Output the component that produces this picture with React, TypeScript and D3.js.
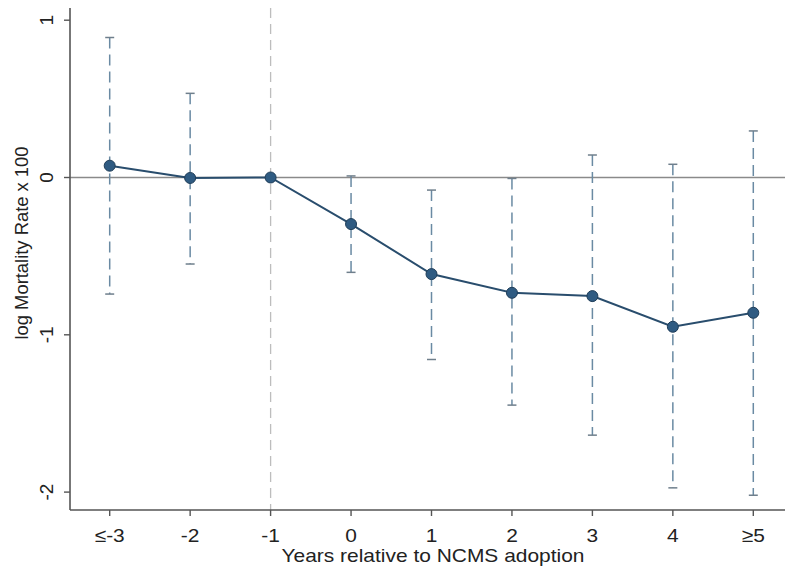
import React from "react";
import * as d3 from "d3";

const categories = ["≤-3", "-2", "-1", "0", "1", "2", "3", "4", "≥5"];
const estimates = [0.075, -0.003, 0, -0.296, -0.614, -0.733, -0.754, -0.949, -0.86];
const ciLow = [-0.741, -0.55, null, -0.603, -1.157, -1.447, -1.638, -1.973, -2.02];
const ciHigh = [0.89, 0.535, null, 0.01, -0.08, -0.006, 0.143, 0.084, 0.296];
const yTicks = [1, 0, -1, -2];
const refCategory = "-1";

const W = 785;
const H = 569;
const left = 70;
const right = 785;
const top = 8;
const bottom = 510;

export default function App() {
  const x = d3.scalePoint<string>().domain(categories).range([109.7, 753.3]);
  const y = d3.scaleLinear().domain([0, -1]).range([177.5, 334.8]);
  const line = d3
    .line<number>()
    .x((_, i) => x(categories[i]) as number)
    .y((d) => y(d));
  const font = "'Liberation Sans', Arial, Helvetica, sans-serif";
  const axisColor = "#555";
  const barColor = "#6a8aa3";
  return (
    <div style={{ position: "fixed", left: 0, top: 0, width: W, height: H, overflow: "hidden" }}>
      <svg width={W} height={H} style={{ display: "block", background: "#fff" }} fontFamily={font}>
        {/* reference vertical line */}
        <line
          x1={x(refCategory)}
          x2={x(refCategory)}
          y1={top}
          y2={bottom}
          stroke="#bdbdbd"
          strokeWidth={1.3}
          strokeDasharray="10,6"
        />
        {/* zero line */}
        <line x1={left} x2={right} y1={y(0)} y2={y(0)} stroke="#8a8a8a" strokeWidth={1.5} />
        {/* error bars */}
        {categories.map((c, i) => {
          const lo = ciLow[i];
          const hi = ciHigh[i];
          if (lo == null || hi == null) return null;
          const cx = x(c) as number;
          return (
            <g key={c}>
              <line
                x1={cx}
                x2={cx}
                y1={y(hi)}
                y2={y(lo)}
                stroke={barColor}
                strokeWidth={1.5}
                strokeDasharray="11,6"
              />
              <line x1={cx - 4.5} x2={cx + 4.5} y1={y(hi)} y2={y(hi)} stroke="#6f7f8c" strokeWidth={1.5} />
              <line x1={cx - 4.5} x2={cx + 4.5} y1={y(lo)} y2={y(lo)} stroke="#6f7f8c" strokeWidth={1.5} />
            </g>
          );
        })}
        {/* estimate line */}
        <path d={line(estimates) || ""} fill="none" stroke="#294d6d" strokeWidth={2} />
        {estimates.map((v, i) => (
          <circle
            key={i}
            cx={x(categories[i])}
            cy={y(v)}
            r={5.5}
            fill="#2f5b82"
            stroke="#1f3d58"
            strokeWidth={1}
          />
        ))}
        {/* axes */}
        <line x1={left} x2={left} y1={top} y2={bottom} stroke={axisColor} strokeWidth={1.6} />
        <line x1={left} x2={right} y1={bottom} y2={bottom} stroke={axisColor} strokeWidth={1.6} />
        {yTicks.map((t) => (
          <g key={t}>
            <line x1={left - 6} x2={left} y1={y(t)} y2={y(t)} stroke={axisColor} strokeWidth={1.4} />
            <text
              transform={`translate(53,${y(t)}) rotate(-90)`}
              textAnchor="middle"
              fontSize={19}
              fill="#222"
            >
              {t}
            </text>
          </g>
        ))}
        {categories.map((c) => (
          <g key={c}>
            <line
              x1={x(c)}
              x2={x(c)}
              y1={bottom}
              y2={bottom + 6}
              stroke={axisColor}
              strokeWidth={1.4}
            />
            <text
              transform={`translate(${x(c)},542) scale(1.1,1)`}
              textAnchor="middle"
              fontSize={19}
              fill="#222"
            >
              {c}
            </text>
          </g>
        ))}
        <text
          x={433}
          y={562}
          textAnchor="middle"
          fontSize={19}
          fill="#222"
          textLength={303}
          lengthAdjust="spacingAndGlyphs"
        >
          Years relative to NCMS adoption
        </text>
        <text
          transform={`translate(28,243) rotate(-90)`}
          textAnchor="middle"
          fontSize={18.5}
          fill="#222"
          textLength={193}
          lengthAdjust="spacingAndGlyphs"
        >
          log Mortality Rate x 100
        </text>
      </svg>
    </div>
  );
}
